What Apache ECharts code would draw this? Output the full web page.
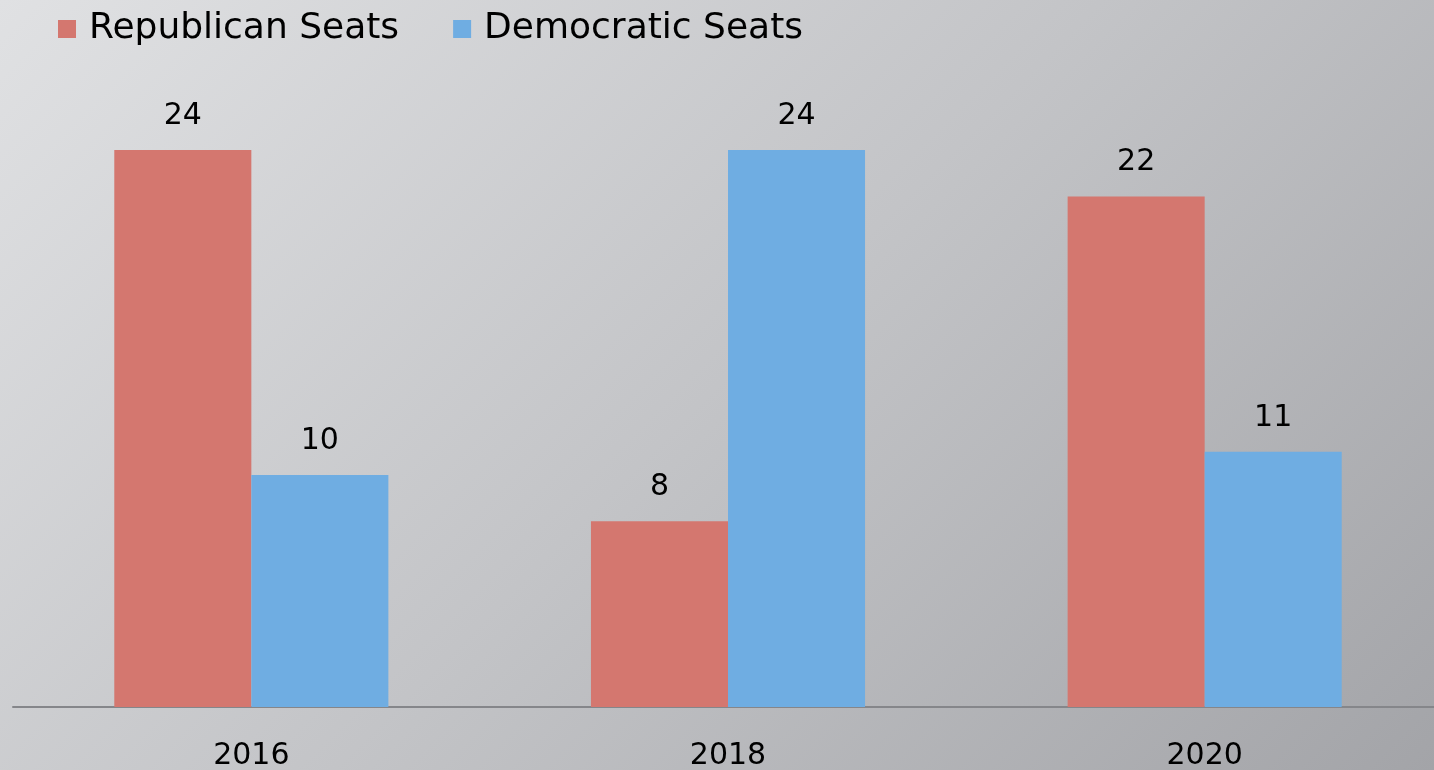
<!DOCTYPE html>
<html><head><meta charset="utf-8">
<script src="https://cdn.jsdelivr.net/npm/echarts@6/dist/echarts.min.js"></script>
<style>html,body{margin:0;padding:0;}#c{width:1434px;height:770px;background:linear-gradient(135deg,#e0e1e3 0%,#c3c4c7 50%,#a3a4a8 100%);}</style>
</head><body><div id="c"></div>
<script>
const categories = ['2016', '2018', '2020'];
const republicanSeats = [24, 8, 22];
const democraticSeats = [10, 24, 11];
const chart = echarts.init(document.getElementById('c'));
const font = 'DejaVu Sans';
chart.setOption({
  backgroundColor: 'transparent',
  animation: false,
  legend: {
    left: 53, top: 6, itemWidth: 18, itemHeight: 18, itemGap: 54,
    icon: 'rect',
    textStyle: { fontFamily: font, fontSize: 36, color: '#000', padding: [0, 0, 0, 8] },
    data: ['Republican Seats', 'Democratic Seats']
  },
  grid: { left: 13, right: -9, top: 150, bottom: 63, containLabel: false, outerBoundsMode: 'none' },
  xAxis: {
    type: 'category', data: categories,
    axisLine: { lineStyle: { color: '#85868a', width: 2 } },
    axisTick: { show: false },
    axisLabel: { fontFamily: font, fontSize: 30, color: '#000', margin: 34 }
  },
  yAxis: { type: 'value', min: 0, max: 24, show: false, splitLine: { show: false } },
  series: [
    { name: 'Republican Seats', type: 'bar', data: republicanSeats, barGap: '0%', barCategoryGap: '42.5%',
      itemStyle: { color: '#d4776f' },
      label: { show: true, position: 'top', distance: 19, fontFamily: font, fontSize: 30, color: '#000' } },
    { name: 'Democratic Seats', type: 'bar', data: democraticSeats,
      itemStyle: { color: '#6fade2' },
      label: { show: true, position: 'top', distance: 19, fontFamily: font, fontSize: 30, color: '#000' } }
  ]
});
</script></body></html>
